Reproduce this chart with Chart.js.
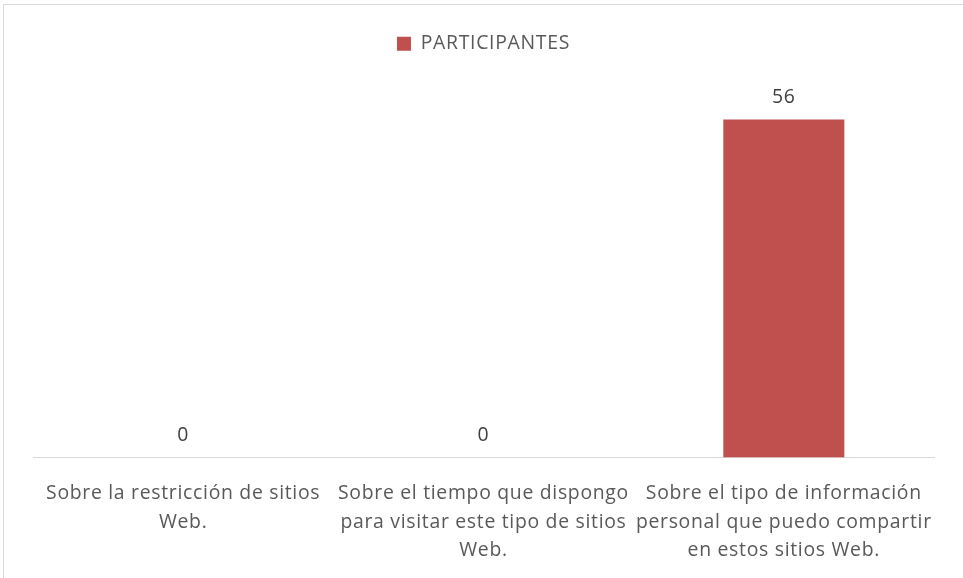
<!DOCTYPE html>
<html>
<head>
<meta charset="utf-8">
<script src="https://cdn.jsdelivr.net/npm/chart.js@4/dist/chart.umd.min.js"></script>
<style>
  html, body { margin: 0; padding: 0; background: #fff; overflow: hidden; }
  #frame { position: absolute; left: 3px; top: 4px; width: 980px; height: 600px; border: 1px solid #d9d9d9; }
  #wrap { position: absolute; left: 0; top: 0; width: 963px; height: 578px; }
</style>
</head>
<body>
<div id="frame"></div>
<div id="wrap"><canvas id="chart"></canvas></div>
<script>
// chart data
var categories = [
    ['Sobre la restricción de sitios', 'Web.'],
    ['Sobre el tiempo que dispongo', 'para visitar este tipo de sitios', 'Web.'],
    ['Sobre el tipo de información', 'personal que puedo compartir', 'en estos sitios Web.']
];
var seriesName = 'PARTICIPANTES';
var participantes = [0, 0, 56];
var yMin = 0;
var yMax = 60;

var font = { family: '"Open Sans", Lato, sans-serif', size: 19.4 };

// slightly wider text, like the original
var spacing = {
    id: 'spacing',
    beforeUpdate: function(chart) { chart.ctx.letterSpacing = '0.7px'; },
    beforeDraw: function(chart) { chart.ctx.letterSpacing = '0.7px'; }
};

// extra room under the legend
var legendSpace = {
    id: 'legendSpace',
    beforeInit: function(chart) {
        var fit = chart.legend.fit;
        chart.legend.fit = function() {
            fit.bind(chart.legend)();
            this.height += 32;
        };
    }
};

// value labels above the bars
var barLabels = {
    id: 'barLabels',
    afterDatasetsDraw: function(chart) {
        var ctx = chart.ctx;
        ctx.save();
        ctx.font = font.size + 'px ' + font.family;
        ctx.fillStyle = '#404040';
        ctx.textAlign = 'center';
        ctx.textBaseline = 'middle';
        chart.getDatasetMeta(0).data.forEach(function(bar, i) {
            ctx.fillText(chart.data.datasets[0].data[i], bar.x, bar.y - 22);
        });
        ctx.restore();
    }
};

var ctx = document.getElementById('chart').getContext('2d');
var myChart = new Chart(ctx, {
    type: 'bar',
    data: {
        labels: categories,
        datasets: [{
            label: seriesName,
            data: participantes,
            backgroundColor: '#c0504d',
            borderWidth: 0,
            barPercentage: 0.403,
            categoryPercentage: 1
        }]
    },
    options: {
        responsive: true,
        maintainAspectRatio: false,
        animation: false,
        layout: { padding: { left: 33, right: 29, top: 24, bottom: -9 } },
        plugins: {
            legend: {
                position: 'top',
                labels: {
                    boxWidth: 14,
                    boxHeight: 14,
                    padding: 10,
                    color: '#595959',
                    font: font
                }
            },
            tooltip: { enabled: false }
        },
        scales: {
            x: {
                grid: { display: false, drawTicks: false },
                border: { color: '#d9d9d9', width: 1 },
                ticks: {
                    color: '#595959',
                    font: { family: font.family, size: font.size, lineHeight: 1.47 },
                    padding: 22,
                    maxRotation: 0,
                    autoSkip: false
                }
            },
            y: {
                display: false,
                min: yMin,
                max: yMax
            }
        }
    },
    plugins: [spacing, legendSpace, barLabels]
});
</script>
</body>
</html>
